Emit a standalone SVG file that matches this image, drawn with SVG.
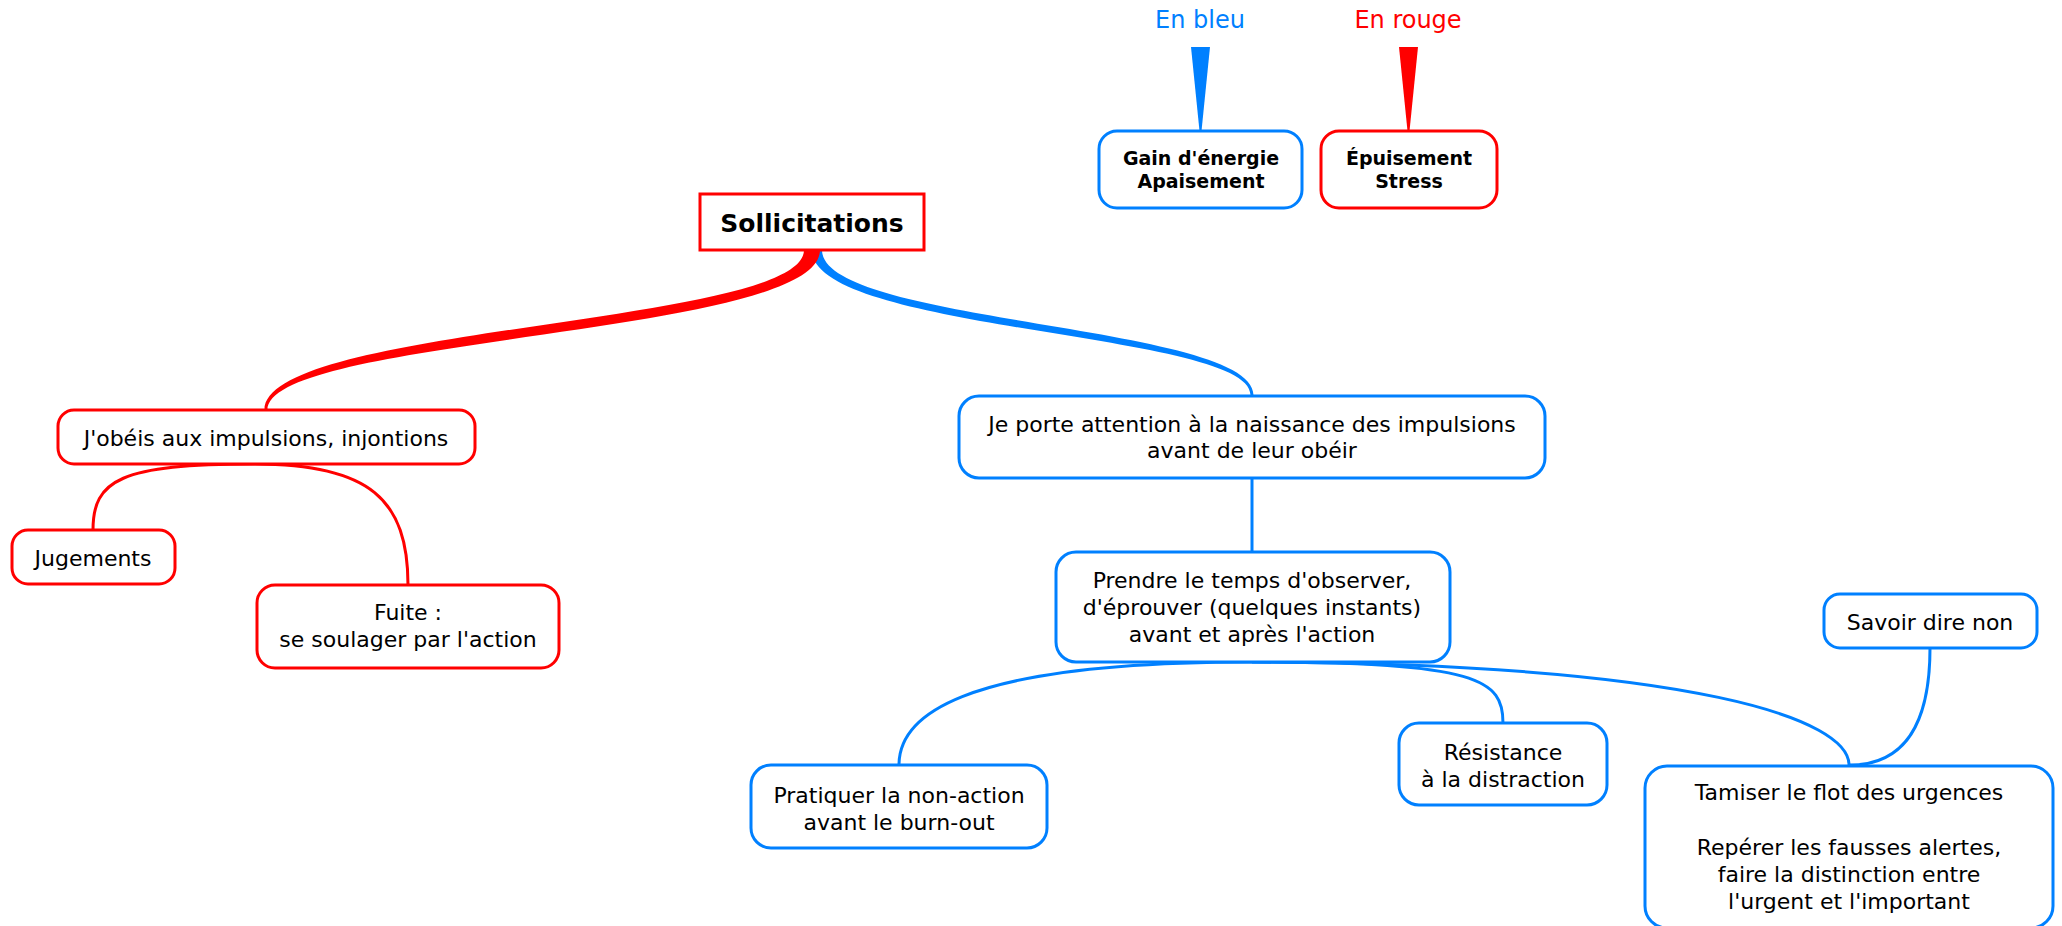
<svg xmlns="http://www.w3.org/2000/svg" width="2062" height="926" viewBox="0 0 2062 926">
<style>
  .t { font-family: "DejaVu Sans", "Liberation Sans", sans-serif; font-size: 22px; fill: #000; text-anchor: middle; }
  .b { font-weight: bold; font-size: 19px; }
  .big { font-weight: bold; font-size: 25px; }
  .lbl { font-family: "DejaVu Sans", "Liberation Sans", sans-serif; font-size: 24px; text-anchor: middle; }
  .nb { fill: #fff; stroke: #0080ff; stroke-width: 3; }
  .nr { fill: #fff; stroke: #ff0000; stroke-width: 3; }
  .cb { fill: none; stroke: #0080ff; stroke-width: 3; }
  .cr { fill: none; stroke: #ff0000; stroke-width: 3; }
</style>
<rect width="2062" height="926" fill="#fff"/>
<g id="connectors">
  <path d="M822,250 C822,324 1253.5,324 1253.5,395 L1250.5,395 C1250.5,332 812,332 812,250 Z" fill="#0080ff"/>
  <path d="M804,250 C804,325 264.5,325 264.5,410 L267.5,410 C267.5,336 820,336 820,250 Z" fill="#ff0000"/>
  <path class="cr" d="M255,464 C120,464 93,480 93,530"/>
  <path class="cr" d="M255,464 C370,464 408,500 408,585"/>
  <path class="cb" d="M1252,478 L1252,552"/>
  <path class="cb" d="M1252,662 C950,662 899,720 899,765"/>
  <path class="cb" d="M1252,662 C1480,662 1503,680 1503,723"/>
  <path class="cb" d="M1252,662 C1700,664 1849,720 1849,765"/>
  <path class="cb" d="M1930,648 C1930,730 1900,765 1850,765"/>
  <polygon points="1191,47 1210,47 1201.5,131 1199.5,131" fill="#0080ff"/>
  <polygon points="1399,47 1418,47 1409.5,131 1407.5,131" fill="#ff0000"/>
</g>
<g id="legend-bleu">
  <text class="lbl" x="1200" y="28" fill="#0080ff">En bleu</text>
</g>
<g id="legend-rouge">
  <text class="lbl" x="1408" y="28" fill="#ff0000">En rouge</text>
</g>
<g id="gain">
  <rect class="nb" x="1099" y="131" width="203" height="77" rx="18"/>
  <text class="t b" x="1201" y="165">Gain d'énergie</text>
  <text class="t b" x="1201" y="188">Apaisement</text>
</g>
<g id="epuisement">
  <rect class="nr" x="1321" y="131" width="176" height="77" rx="18"/>
  <text class="t b" x="1409" y="165">Épuisement</text>
  <text class="t b" x="1409" y="188">Stress</text>
</g>
<g id="sollicitations">
  <rect class="nr" x="700" y="194" width="224" height="56"/>
  <text class="t big" x="812" y="232">Sollicitations</text>
</g>
<g id="obeis">
  <rect class="nr" x="58" y="410" width="417" height="54" rx="16"/>
  <text class="t" x="266" y="446">J'obéis aux impulsions, injontions</text>
</g>
<g id="jugements">
  <rect class="nr" x="12" y="530" width="163" height="54" rx="16"/>
  <text class="t" x="93" y="566">Jugements</text>
</g>
<g id="fuite">
  <rect class="nr" x="257" y="585" width="302" height="83" rx="18"/>
  <text class="t" x="408" y="620">Fuite :</text>
  <text class="t" x="408" y="647">se soulager par l'action</text>
</g>
<g id="attention">
  <rect class="nb" x="959" y="396" width="586" height="82" rx="20"/>
  <text class="t" x="1252" y="432">Je porte attention à la naissance des impulsions</text>
  <text class="t" x="1252" y="458">avant de leur obéir</text>
</g>
<g id="prendre">
  <rect class="nb" x="1056" y="552" width="394" height="110" rx="20"/>
  <text class="t" x="1252" y="588">Prendre le temps d'observer,</text>
  <text class="t" x="1252" y="615">d'éprouver (quelques instants)</text>
  <text class="t" x="1252" y="642">avant et après l'action</text>
</g>
<g id="pratiquer">
  <rect class="nb" x="751" y="765" width="296" height="83" rx="20"/>
  <text class="t" x="899" y="803">Pratiquer la non-action</text>
  <text class="t" x="899" y="830">avant le burn-out</text>
</g>
<g id="resistance">
  <rect class="nb" x="1399" y="723" width="208" height="82" rx="20"/>
  <text class="t" x="1503" y="760">Résistance</text>
  <text class="t" x="1503" y="787">à la distraction</text>
</g>
<g id="savoir">
  <rect class="nb" x="1824" y="594" width="213" height="54" rx="16"/>
  <text class="t" x="1930" y="630">Savoir dire non</text>
</g>
<g id="tamiser">
  <rect class="nb" x="1645" y="766" width="408" height="162" rx="22"/>
  <text class="t" x="1849" y="800">Tamiser le flot des urgences</text>
  <text class="t" x="1849" y="855">Repérer les fausses alertes,</text>
  <text class="t" x="1849" y="882">faire la distinction entre</text>
  <text class="t" x="1849" y="909">l'urgent et l'important</text>
</g>
</svg>
